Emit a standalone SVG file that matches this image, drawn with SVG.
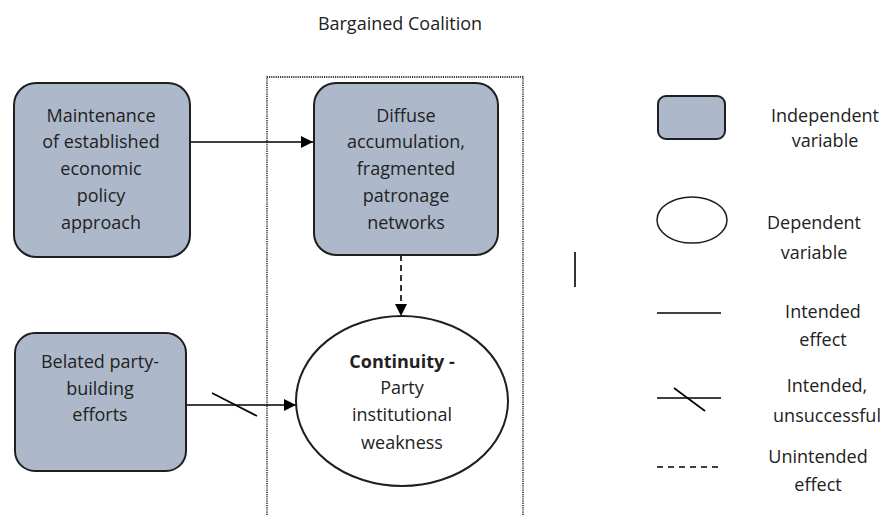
<svg xmlns="http://www.w3.org/2000/svg" width="888" height="515" viewBox="0 0 888 515">
  <style>
    text { font-family: "Open Sans", "Noto Sans", "DejaVu Sans", sans-serif; font-size: 18px; fill: #222222; text-anchor: middle; }
    .box { fill: #adb9ca; stroke: #1f1f1f; stroke-width: 2; }
    .oval { fill: #ffffff; stroke: #1f1f1f; stroke-width: 2; }
    .line { stroke: #000000; stroke-width: 1.6; fill: none; }
    .dash { stroke-dasharray: 6 4; }
    .frame { stroke: #000000; stroke-width: 1.3; fill: none; stroke-dasharray: 1.2 1; }
    .bold { font-weight: bold; }
  </style>
  <defs>
    <marker id="arrow" viewBox="0 0 12 12" refX="12" refY="6" markerWidth="12" markerHeight="12" markerUnits="userSpaceOnUse" orient="auto">
      <path d="M0,0 L12,6 L0,12 z" fill="#000000"/>
    </marker>
  </defs>

  <rect width="888" height="515" fill="#ffffff"/>

  <text x="400" y="30">Bargained Coalition</text>

  <!-- dotted frame around the coalition column -->
  <path class="frame" d="M267,515 V77 H523 V515"/>

  <g id="connectors">
    <line class="line" x1="190" y1="142" x2="313" y2="142" marker-end="url(#arrow)"/>
    <line class="line dash" x1="401" y1="255" x2="401" y2="316" marker-end="url(#arrow)"/>
    <line class="line" x1="186" y1="405" x2="296" y2="405" marker-end="url(#arrow)"/>
    <line class="line" x1="212" y1="393" x2="257" y2="416"/>
  </g>

  <g id="maintenance">
    <rect class="box" x="14" y="83" width="176" height="174" rx="22"/>
    <text x="101" y="122">Maintenance</text>
    <text x="101" y="148">of established</text>
    <text x="101" y="175">economic</text>
    <text x="101" y="202">policy</text>
    <text x="101" y="229">approach</text>
  </g>

  <g id="diffuse">
    <rect class="box" x="314" y="83" width="184" height="172" rx="22"/>
    <text x="406" y="122">Diffuse</text>
    <text x="406" y="148">accumulation,</text>
    <text x="406" y="175">fragmented</text>
    <text x="406" y="202">patronage</text>
    <text x="406" y="229">networks</text>
  </g>

  <g id="belated">
    <rect class="box" x="15" y="333" width="171" height="138" rx="20"/>
    <text x="100" y="368">Belated party-</text>
    <text x="100" y="395">building</text>
    <text x="100" y="421">efforts</text>
  </g>

  <g id="continuity">
    <ellipse class="oval" cx="402" cy="401" rx="106" ry="85"/>
    <text x="402" y="368" class="bold">Continuity -</text>
    <text x="402" y="394">Party</text>
    <text x="402" y="421">institutional</text>
    <text x="402" y="449">weakness</text>
  </g>

  <!-- stray mark -->
  <line class="line" x1="575" y1="252" x2="575" y2="287"/>

  <g id="legend">
    <rect class="box" x="658" y="96" width="67" height="43" rx="8"/>
    <text x="825" y="122">Independent</text>
    <text x="825" y="147">variable</text>

    <ellipse class="oval" cx="692" cy="220" rx="35" ry="23" style="stroke-width:1.5"/>
    <text x="814" y="229">Dependent</text>
    <text x="814" y="259">variable</text>

    <line class="line" x1="657" y1="313" x2="721" y2="313"/>
    <text x="823" y="318">Intended</text>
    <text x="823" y="346">effect</text>

    <line class="line" x1="657" y1="398" x2="721" y2="398"/>
    <line class="line" x1="674" y1="388" x2="705" y2="411"/>
    <text x="827" y="392">Intended,</text>
    <text x="827" y="422">unsuccessful</text>

    <line class="line dash" x1="657" y1="467" x2="721" y2="467" style="stroke-dasharray:6 5"/>
    <text x="818" y="463">Unintended</text>
    <text x="818" y="491">effect</text>
  </g>
</svg>
